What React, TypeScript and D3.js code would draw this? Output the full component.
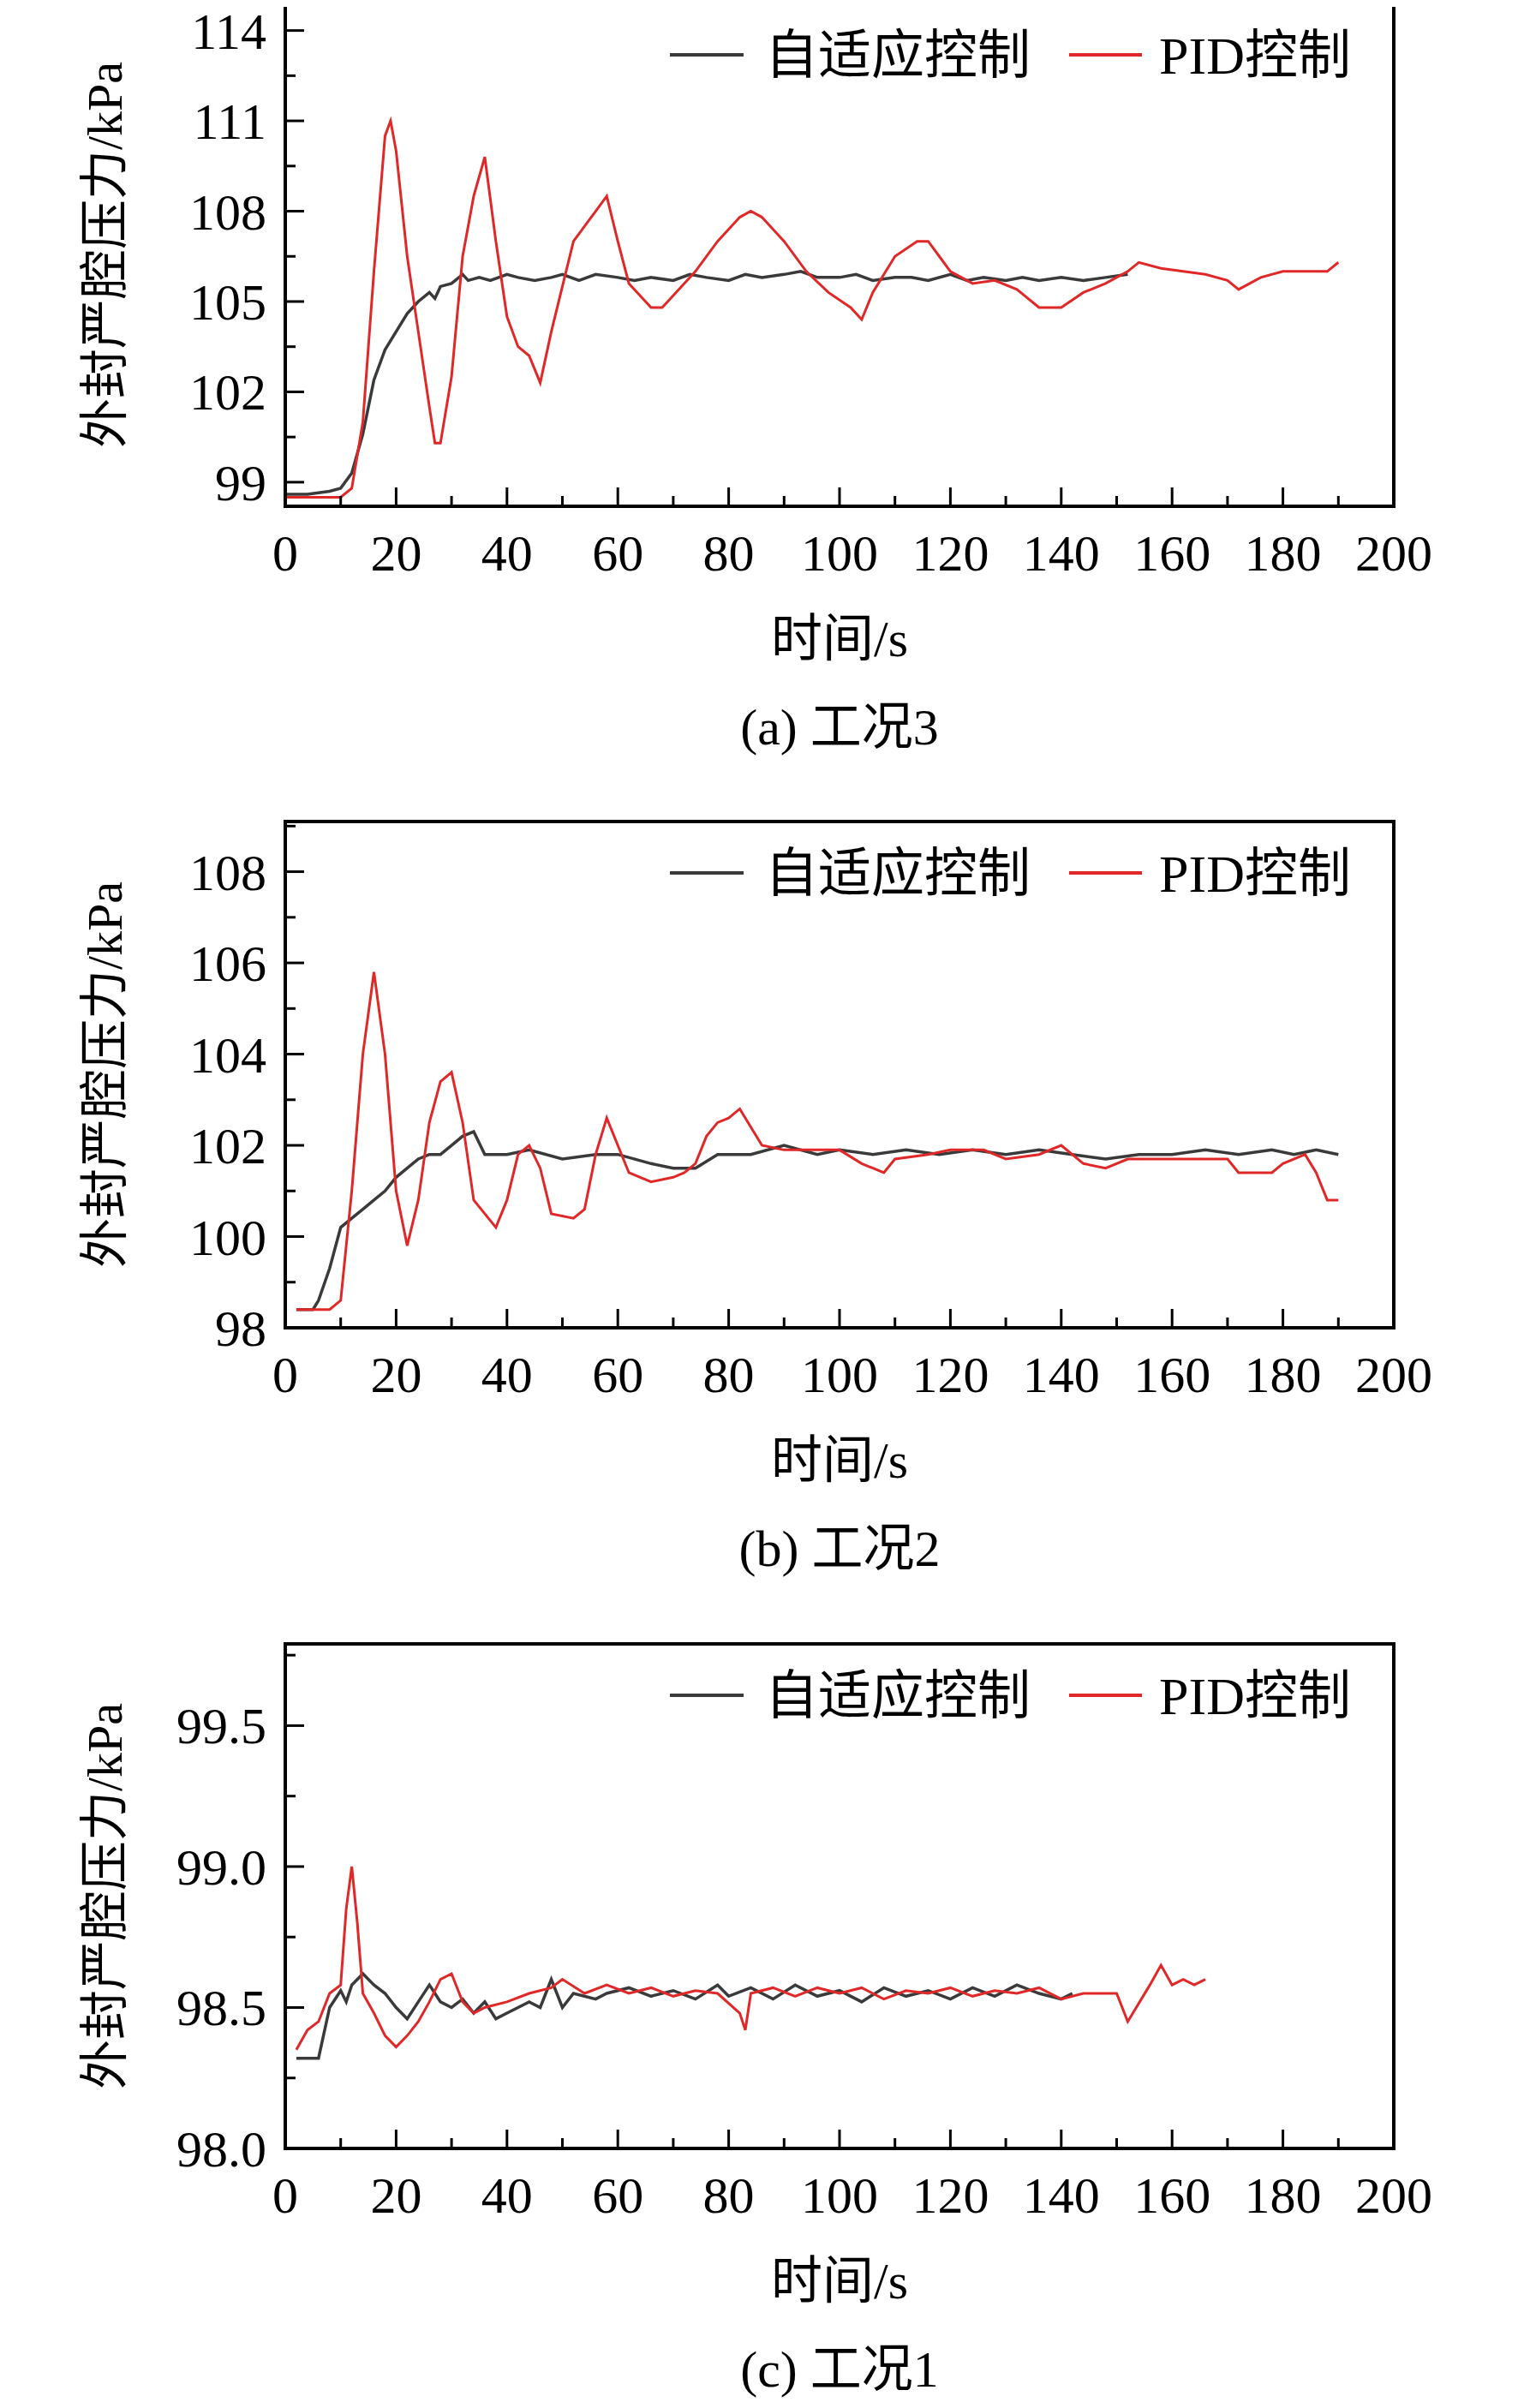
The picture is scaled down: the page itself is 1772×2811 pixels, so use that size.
import React, { useRef, useEffect } from 'react';
import * as d3 from 'd3';

type Pt = [number, number];

const xTicks = [0, 20, 40, 60, 80, 100, 120, 140, 160, 180, 200];

// Panel (a) 工况3
const adaptiveA: Pt[] = [[0, 98.6], [4, 98.6], [8, 98.7], [10, 98.8], [12, 99.3], [14, 100.6], [16, 102.4], [18, 103.4], [20, 104.0], [22, 104.6], [24, 105.0], [26, 105.3], [27, 105.1], [28, 105.5], [30, 105.6], [32, 105.9], [33, 105.7], [35, 105.8], [37, 105.7], [40, 105.9], [42, 105.8], [45, 105.7], [48, 105.8], [50, 105.9], [53, 105.7], [56, 105.9], [60, 105.8], [63, 105.7], [66, 105.8], [70, 105.7], [73, 105.9], [76, 105.8], [80, 105.7], [83, 105.9], [86, 105.8], [90, 105.9], [93, 106.0], [96, 105.8], [100, 105.8], [103, 105.9], [106, 105.7], [110, 105.8], [113, 105.8], [116, 105.7], [120, 105.9], [123, 105.7], [126, 105.8], [130, 105.7], [133, 105.8], [136, 105.7], [140, 105.8], [144, 105.7], [148, 105.8], [152, 105.9]];
const pidA: Pt[] = [[0, 98.5], [10, 98.5], [12, 98.8], [14, 101], [16, 106], [18, 110.5], [19, 111], [20, 110], [22, 106.5], [24, 104], [26, 101.5], [27, 100.3], [28, 100.3], [30, 102.5], [32, 106.5], [34, 108.5], [36, 109.8], [38, 107], [40, 104.5], [42, 103.5], [44, 103.2], [46, 102.3], [48, 104], [50, 105.5], [52, 107], [54, 107.5], [56, 108], [58, 108.5], [60, 107], [62, 105.6], [64, 105.2], [66, 104.8], [68, 104.8], [70, 105.2], [74, 106], [78, 107], [82, 107.8], [84, 108], [86, 107.8], [90, 107], [94, 106], [98, 105.3], [102, 104.8], [104, 104.4], [106, 105.3], [110, 106.5], [114, 107], [116, 107], [118, 106.5], [120, 106], [124, 105.6], [128, 105.7], [132, 105.4], [136, 104.8], [140, 104.8], [144, 105.3], [148, 105.6], [152, 106.0], [154, 106.3], [158, 106.1], [162, 106.0], [166, 105.9], [170, 105.7], [172, 105.4], [176, 105.8], [180, 106.0], [184, 106.0], [188, 106.0], [190, 106.3]];

// Panel (b) 工况2
const adaptiveB: Pt[] = [[2, 98.4], [5, 98.4], [6, 98.6], [8, 99.3], [10, 100.2], [12, 100.4], [14, 100.6], [16, 100.8], [18, 101.0], [20, 101.3], [22, 101.5], [24, 101.7], [26, 101.8], [28, 101.8], [30, 102.0], [32, 102.2], [34, 102.3], [36, 101.8], [40, 101.8], [44, 101.9], [50, 101.7], [56, 101.8], [60, 101.8], [66, 101.6], [70, 101.5], [74, 101.5], [78, 101.8], [84, 101.8], [90, 102.0], [96, 101.8], [100, 101.9], [106, 101.8], [112, 101.9], [118, 101.8], [124, 101.9], [130, 101.8], [136, 101.9], [142, 101.8], [148, 101.7], [154, 101.8], [160, 101.8], [166, 101.9], [172, 101.8], [178, 101.9], [182, 101.8], [186, 101.9], [190, 101.8]];
const pidB: Pt[] = [[2, 98.4], [8, 98.4], [10, 98.6], [12, 101], [14, 104], [16, 105.8], [18, 104], [20, 101], [22, 99.8], [24, 100.8], [26, 102.5], [28, 103.4], [30, 103.6], [32, 102.5], [34, 100.8], [36, 100.5], [38, 100.2], [40, 100.8], [42, 101.8], [44, 102], [46, 101.5], [48, 100.5], [52, 100.4], [54, 100.6], [56, 101.8], [58, 102.6], [60, 102], [62, 101.4], [66, 101.2], [70, 101.3], [72, 101.4], [74, 101.6], [76, 102.2], [78, 102.5], [80, 102.6], [82, 102.8], [84, 102.4], [86, 102], [90, 101.9], [100, 101.9], [104, 101.6], [108, 101.4], [110, 101.7], [116, 101.8], [120, 101.9], [126, 101.9], [130, 101.7], [136, 101.8], [140, 102], [144, 101.6], [148, 101.5], [152, 101.7], [160, 101.7], [170, 101.7], [172, 101.4], [178, 101.4], [180, 101.6], [184, 101.8], [186, 101.4], [188, 100.8], [190, 100.8]];

// Panel (c) 工况1
const adaptiveC: Pt[] = [[2, 98.32], [6, 98.32], [8, 98.5], [10, 98.56], [11, 98.52], [12, 98.58], [14, 98.62], [16, 98.58], [18, 98.55], [20, 98.5], [22, 98.46], [24, 98.52], [26, 98.58], [28, 98.52], [30, 98.5], [32, 98.53], [34, 98.48], [36, 98.52], [38, 98.46], [40, 98.48], [42, 98.5], [44, 98.52], [46, 98.5], [48, 98.6], [50, 98.5], [52, 98.55], [56, 98.53], [58, 98.55], [62, 98.57], [66, 98.54], [70, 98.56], [74, 98.53], [78, 98.58], [80, 98.54], [84, 98.57], [88, 98.53], [92, 98.58], [96, 98.54], [100, 98.56], [104, 98.52], [108, 98.57], [112, 98.54], [116, 98.56], [120, 98.53], [124, 98.57], [128, 98.54], [132, 98.58], [136, 98.55], [140, 98.53], [142, 98.55]];
const pidC: Pt[] = [[2, 98.35], [4, 98.42], [6, 98.45], [8, 98.55], [10, 98.58], [11, 98.85], [12, 99.0], [13, 98.8], [14, 98.55], [16, 98.48], [18, 98.4], [20, 98.36], [22, 98.4], [24, 98.45], [26, 98.52], [28, 98.6], [30, 98.62], [32, 98.52], [34, 98.48], [36, 98.5], [40, 98.52], [44, 98.55], [48, 98.57], [50, 98.6], [54, 98.55], [58, 98.58], [62, 98.55], [66, 98.57], [70, 98.54], [74, 98.56], [78, 98.55], [82, 98.48], [83, 98.42], [84, 98.55], [88, 98.57], [92, 98.54], [96, 98.57], [100, 98.55], [104, 98.57], [108, 98.53], [112, 98.56], [116, 98.55], [120, 98.57], [124, 98.54], [128, 98.56], [132, 98.55], [136, 98.57], [140, 98.53], [144, 98.55], [150, 98.55], [152, 98.45], [156, 98.58], [158, 98.65], [160, 98.58], [162, 98.6], [164, 98.58], [166, 98.6]];

interface PanelSpec {
  top: number; bottom: number; yDomain: [number, number];
  yMajor: number[]; yMinorStep: number; yFmt: (v: number) => string;
  adaptive: Pt[]; pid: Pt[]; caption: string;
}

const panels: PanelSpec[] = [
  { top: 4, bottom: 591, yDomain: [98.2, 114.9], yMajor: [99, 102, 105, 108, 111, 114], yMinorStep: 1.5, yFmt: d3.format('d'), adaptive: adaptiveA, pid: pidA, caption: '(a) 工况3' },
  { top: 959, bottom: 1550, yDomain: [98, 109.1], yMajor: [98, 100, 102, 104, 106, 108], yMinorStep: 1, yFmt: d3.format('d'), adaptive: adaptiveB, pid: pidB, caption: '(b) 工况2' },
  { top: 1919, bottom: 2508, yDomain: [98, 99.79], yMajor: [98.0, 98.5, 99.0, 99.5], yMinorStep: 0.25, yFmt: d3.format('.1f'), adaptive: adaptiveC, pid: pidC, caption: '(c) 工况1' },
];

const LEFT = 333, RIGHT = 1627;
const serif = '"Liberation Serif", "Times New Roman", serif';
const cjk = '"Liberation Serif", "Noto Sans CJK SC", serif';

const App: React.FC = () => {
  const svgRef = useRef<SVGSVGElement | null>(null);

  useEffect(() => {
    const svg = d3.select(svgRef.current);
    svg.selectAll('*').remove();

    const x = d3.scaleLinear().domain([0, 200]).range([LEFT, RIGHT]);

    panels.forEach(p => {
      const y = d3.scaleLinear().domain(p.yDomain).range([p.bottom, p.top]);
      const g = svg.append('g');

      const line = d3.line<Pt>().x(d => x(d[0])).y(d => y(d[1]));
      g.append('path').datum(p.adaptive).attr('d', line).attr('fill', 'none')
        .attr('stroke', '#3a3a3a').attr('stroke-width', 3.5);
      g.append('path').datum(p.pid).attr('d', line).attr('fill', 'none')
        .attr('stroke', '#e02828').attr('stroke-width', 3);

      g.append('rect').attr('x', LEFT).attr('y', p.top).attr('width', RIGHT - LEFT)
        .attr('height', p.bottom - p.top).attr('fill', 'none').attr('stroke', '#000').attr('stroke-width', 4);

      // x ticks (inward)
      d3.range(0, 201, 10).forEach(t => {
        const major = t % 20 === 0;
        g.append('line').attr('x1', x(t)).attr('x2', x(t))
          .attr('y1', p.bottom).attr('y2', p.bottom - (major ? 22 : 12))
          .attr('stroke', '#000').attr('stroke-width', 3);
      });
      g.selectAll('text.xt').data(xTicks).join('text')
        .attr('x', d => x(d)).attr('y', p.bottom + 75)
        .attr('text-anchor', 'middle').style('font-family', serif).style('font-size', '60px')
        .text(d => d);

      // y ticks (inward)
      const [y0, y1] = p.yDomain;
      const startMinor = Math.ceil(y0 / p.yMinorStep - 1e-6) * p.yMinorStep;
      for (let v = startMinor; v <= y1 + 1e-6; v += p.yMinorStep) {
        const major = p.yMajor.some(m => Math.abs(m - v) < 1e-6);
        g.append('line').attr('x1', LEFT).attr('x2', LEFT + (major ? 22 : 12))
          .attr('y1', y(v)).attr('y2', y(v)).attr('stroke', '#000').attr('stroke-width', 3);
      }
      g.selectAll('text.yt').data(p.yMajor).join('text')
        .attr('x', LEFT - 22).attr('y', d => y(d)).attr('dy', '0.35em')
        .attr('text-anchor', 'end').style('font-family', serif).style('font-size', '60px')
        .text(d => p.yFmt(d));

      // y label
      g.append('text')
        .attr('transform', `translate(142,${(p.top + p.bottom) / 2}) rotate(-90)`)
        .attr('text-anchor', 'middle').style('font-family', cjk).style('font-size', '58px')
        .text('外封严腔压力/kPa');

      // x label and caption
      g.append('text').attr('x', (LEFT + RIGHT) / 2).attr('y', p.bottom + 175)
        .attr('text-anchor', 'middle').style('font-family', cjk).style('font-size', '60px').text('时间/s');
      g.append('text').attr('x', (LEFT + RIGHT) / 2).attr('y', p.bottom + 278)
        .attr('text-anchor', 'middle').style('font-family', cjk).style('font-size', '60px').text(p.caption);

      // legend
      const ly = p.top + 60;
      g.append('line').attr('x1', 782).attr('x2', 868).attr('y1', ly).attr('y2', ly)
        .attr('stroke', '#3a3a3a').attr('stroke-width', 4);
      g.append('text').attr('x', 893).attr('y', ly).attr('dy', '0.35em')
        .style('font-family', cjk).style('font-size', '62px').text('自适应控制');
      g.append('line').attr('x1', 1248).attr('x2', 1333).attr('y1', ly).attr('y2', ly)
        .attr('stroke', '#e02828').attr('stroke-width', 4);
      g.append('text').attr('x', 1353).attr('y', ly).attr('dy', '0.35em')
        .style('font-family', cjk).style('font-size', '62px').text('PID控制');
    });
  }, []);

  return <svg ref={svgRef} width={1772} height={2811} style={{ display: 'block', margin: -8 }} />;
};

export default App;
